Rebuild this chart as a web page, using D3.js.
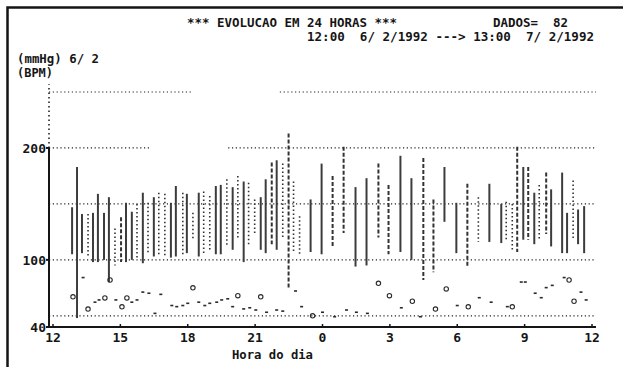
<!DOCTYPE html>
<html><head><meta charset="utf-8">
<script src="https://cdn.jsdelivr.net/npm/d3@7"></script>
<style>html,body{margin:0;padding:0;background:#fff;} svg{display:block;}</style>
</head><body>
<script>
// ---- data (hours after 12:00 on 6/2/1992) ----
const tickHours  = [0, 3, 6, 9, 12, 15, 18, 21, 24];
const tickLabels = ["12", "15", "18", "21", "0", "3", "6", "9", "12"];
const yTickValues = [40, 100, 200];
const yTickLabels = ["40", "100", "200"];
// dotted reference lines: value, start hour, end hour
const gridValues = [50, 100, 150, 200, 200, 250, 250];
const gridFrom   = [-0.2, -0.2, -0.2, -0.2, 7.8, -0.2, 10.1];
const gridTo     = [24.2, 24.2, 24.2, 4.3, 24.2, 6.2, 24.2];

// blood pressure bars (systolic high / diastolic low, mmHg)
const barHours = [0.85,1.07,1.29,1.56,1.78,2.00,2.27,2.49,2.76,3.03,3.25,3.51,3.74,4.00,4.23,4.49,4.71,4.98,5.25,5.47,
  5.78,5.96,6.23,6.49,6.71,6.98,7.25,7.47,7.74,8.00,8.23,8.49,8.71,8.98,9.25,9.47,9.74,9.96,10.23,10.49,
  10.71,10.98,11.47,11.96,12.45,12.94,13.47,13.96,14.49,14.94,15.47,15.96,16.49,16.94,17.43,17.96,18.45,18.94,19.43,19.96,
  20.18,20.45,20.67,20.94,21.16,21.43,21.65,21.96,22.18,22.67,22.89,23.16,23.38,23.65];
const barHigh = [147,183,141,141,142,159,142,156,128,138,151,143,150,160,151,156,160,159,151,166,
  160,159,142,160,161,157,166,167,172,165,175,170,169,154,156,172,187,189,186,213,
  170,139,154,186,175,201,165,173,186,167,193,173,191,154,183,151,168,156,168,150,
  152,150,201,183,183,160,167,178,163,178,142,171,145,148];
const barLow = [105,48,106,103,98,98,100,80,95,98,98,100,102,97,106,103,105,103,102,103,
  104,106,118,103,106,109,105,105,112,109,118,98,112,123,109,106,114,109,120,75,
  106,105,107,105,111,124,94,95,120,105,107,100,82,89,134,106,94,116,116,115,
  118,107,107,118,118,114,118,123,112,106,106,118,114,106];
const barStyle = ["s","s","s","p","s","s","s","s","p","d","s","s","p","s","p","s","p","p","s","s",
  "p","s","p","s","p","p","s","s","p","s","p","s","p","p","s","s","d","s","p","d",
  "p","p","s","s","d","d","s","s","d","d","s","s","d","d","s","s","d","p","s","s",
  "p","p","d","s","d","s","p","d","s","s","s","p","s","s"];

// heart rate (BPM)
const hrHours = [0.89,1.34,1.56,1.87,2.05,2.31,2.54,2.80,3.07,3.29,3.51,3.74,4.00,4.27,4.54,4.80,5.29,5.51,5.78,6.00,
  6.23,6.49,6.76,6.98,7.29,7.51,7.78,8.00,8.23,8.49,8.76,9.03,9.25,9.51,9.96,10.23,10.80,11.07,11.56,12.00,
  12.54,13.07,13.51,14.00,14.49,14.98,15.51,16.00,16.36,17.03,17.51,18.00,18.49,18.98,19.51,20.23,20.45,20.85,21.03,21.47,
  21.74,21.96,22.23,22.76,22.98,23.20,23.51,23.74];
const hrValues = [67,84,56,62,64,66,82,64,58,66,62,64,71,70,52,69,59,58,59,61,
  75,62,59,61,62,64,65,58,68,56,57,55,67,53,55,54,72,58,50,53,
  49,55,53,52,79,68,57,63,49,56,74,59,58,66,62,58,58,80,80,70,
  66,75,77,84,82,63,71,64];
const hrMarks = ["o","-","o","-","-","o","o","-","o","o","-","-","-","-","-","-","-","-","-","-",
  "o","-","-","-","-","-","-","-","o","-","-","-","o","-","-","-","-","-","o","-",
  "-","-","-","-","o","o","-","o","-","o","o","-","o","-","-","-","o","-","-","-",
  "-","-","-","-","o","o","-","-"];

// ---- drawing ----
const W = 623, H = 367;
const svg = d3.select("body").append("svg").attr("width", W).attr("height", H);
svg.append("rect").attr("width", W).attr("height", H).attr("fill", "#fff");

const x = d3.scaleLinear().domain([0, 24]).range([53, 592]);
const y = d3.scaleLinear().domain([40, 250]).range([327, 92]);
const axisX = 49, gridRight = 596;
const ink = "#151515";
const mono = "'DejaVu Sans Mono', 'Liberation Mono', monospace";

// frame
svg.append("path").attr("d", `M7.5,${H} V7.5 H${W}`).attr("fill", "none")
  .attr("stroke", ink).attr("stroke-width", 2.5);

// header texts
function txt(s, tx, ty, len, opts = {}) {
  const t = svg.append("text").attr("x", tx).attr("y", ty).text(s)
    .attr("font-family", mono).attr("font-size", opts.size || 12.5)
    .attr("font-weight", opts.weight || "bold").attr("fill", ink)
    .style("white-space", "pre").attr("xml:space", "preserve");
  if (len) t.attr("textLength", len).attr("lengthAdjust", "spacingAndGlyphs");
  if (opts.anchor) t.attr("text-anchor", opts.anchor);
  return t;
}
txt("*** EVOLUCAO EM 24 HORAS ***", 187, 27, 210);
txt("DADOS=  82", 493, 27, 75);
txt("12:00  6/ 2/1992 ---> 13:00  7/ 2/1992", 307, 41, 287);
txt("(mmHg) 6/ 2", 17, 63, 82);
txt("(BPM)", 17, 77, 36);

// reference lines (dotted)
svg.append("g").selectAll("line").data(gridValues).join("line")
  .attr("x1", (d, i) => Math.max(axisX, x(gridFrom[i])))
  .attr("x2", (d, i) => Math.min(gridRight, x(gridTo[i])))
  .attr("y1", d => y(d)).attr("y2", d => y(d))
  .attr("stroke", "#222").attr("stroke-width", 1.2).attr("stroke-dasharray", "1.2,2.6");

// y axis
svg.append("line").attr("x1", axisX).attr("x2", axisX).attr("y1", y(40)).attr("y2", y(200))
  .attr("stroke", ink).attr("stroke-width", 2);
svg.append("line").attr("x1", axisX).attr("x2", axisX).attr("y1", y(200)).attr("y2", y(257))
  .attr("stroke", ink).attr("stroke-width", 1.5).attr("stroke-dasharray", "1.5,3");
svg.append("g").selectAll("line").data(yTickValues).join("line")
  .attr("x1", axisX - 3).attr("x2", axisX).attr("y1", d => y(d)).attr("y2", d => y(d))
  .attr("stroke", ink).attr("stroke-width", 2);
svg.append("g").selectAll("text").data(yTickValues).join("text")
  .attr("x", axisX - 3).attr("y", d => y(d)).attr("dy", "0.36em")
  .attr("text-anchor", "end").attr("font-family", mono).attr("font-weight", "bold")
  .attr("font-size", 13).attr("fill", ink).text((d, i) => yTickLabels[i]);

// x axis
svg.append("line").attr("x1", axisX - 1).attr("x2", gridRight).attr("y1", y(40)).attr("y2", y(40))
  .attr("stroke", ink).attr("stroke-width", 2);
svg.append("g").selectAll("line").data(tickHours).join("line")
  .attr("x1", d => x(d)).attr("x2", d => x(d)).attr("y1", y(40)).attr("y2", y(40) - 3)
  .attr("stroke", ink).attr("stroke-width", 1.5);
svg.append("g").selectAll("text").data(tickHours).join("text")
  .attr("x", d => x(d)).attr("y", y(40) + 15)
  .attr("text-anchor", "middle").attr("font-family", mono).attr("font-weight", "bold")
  .attr("font-size", 13).attr("fill", ink).text((d, i) => tickLabels[i]);
txt("Hora do dia", 232, 359, 81, {size: 12});

// BP bars
const dash = {s: null, d: "4,2", p: "1.5,2.5"};
svg.append("g").selectAll("line").data(barHours).join("line")
  .attr("x1", d => x(d)).attr("x2", d => x(d))
  .attr("y1", (d, i) => y(barHigh[i])).attr("y2", (d, i) => y(barLow[i]))
  .attr("stroke", (d, i) => barStyle[i] === "s" ? "#3c3c3c" : "#333")
  .attr("stroke-width", (d, i) => barStyle[i] === "p" ? 1.6 : 2)
  .attr("stroke-dasharray", (d, i) => dash[barStyle[i]]);

// heart rate marks
const hr = svg.append("g");
hrHours.forEach((h, i) => {
  if (hrMarks[i] === "o") {
    hr.append("circle").attr("cx", x(h)).attr("cy", y(hrValues[i])).attr("r", 2.2)
      .attr("fill", "none").attr("stroke", "#2a2a2a").attr("stroke-width", 1.1);
  } else {
    hr.append("rect").attr("x", x(h) - 1.5).attr("y", y(hrValues[i]) - 1)
      .attr("width", 3).attr("height", 1.6).attr("fill", "#2a2a2a");
  }
});
</script>
</body></html>
